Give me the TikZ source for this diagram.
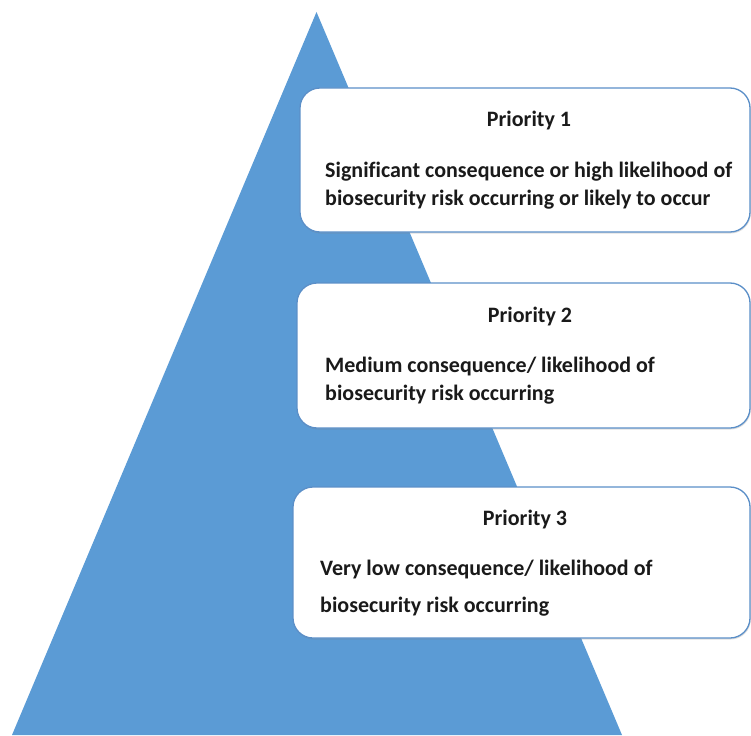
\documentclass[tikz,border=0pt]{standalone}
\usepackage{fontspec}
\setmainfont[Ligatures=NoCommon]{Carlito}
\usetikzlibrary{shadows}
\definecolor{pyrblue}{HTML}{5B9BD5}
\definecolor{edgeblue}{HTML}{5B8FC8}
\definecolor{inktext}{HTML}{1A1A1A}
\begin{document}
\begin{tikzpicture}[x=1pt,y=-1pt,
  tierbox/.style={draw=edgeblue, line width=1.3pt, fill=white, rounded corners=20pt,
    drop shadow={opacity=0.25, shadow xshift=0.8pt, shadow yshift=-1.5pt}},
  heading/.style={anchor=base, inner sep=0pt, text=inktext,
    font=\fontsize{22}{26}\selectfont\bfseries},
  bodyline/.style={anchor=base west, inner sep=0pt, text=inktext,
    font=\fontsize{22}{26}\selectfont\bfseries}]
  \useasboundingbox (0,0) rectangle (751,735);
  % pyramid
  \fill[pyrblue] (316.5,12) -- (622,735) -- (12,735) -- cycle;
  % priority boxes
  \draw[tierbox] (300,88) rectangle (750,232);
  \draw[tierbox] (297,283) rectangle (750,428);
  \draw[tierbox] (293,487) rectangle (750,638);
  % box 1
  \node[heading] (h1) at (529,127) {Priority 1};
  \node[bodyline] (a1) at (325,178) {Significant consequence or high likelihood of};
  \node[bodyline] (b1) at (325,206) {biosecurity risk occurring or likely to occur};
  % box 2
  \node[heading] (h2) at (530,322) {Priority 2};
  \node[bodyline] (a2) at (325,372) {Medium consequence/ likelihood of};
  \node[bodyline] (b2) at (325,400) {biosecurity risk occurring};
  % box 3
  \node[heading] (h3) at (525,525) {Priority 3};
  \node[bodyline] (a3) at (320,575) {Very low consequence/ likelihood of};
  \node[bodyline] (b3) at (320,612) {biosecurity risk occurring};
\end{tikzpicture}
\end{document}
